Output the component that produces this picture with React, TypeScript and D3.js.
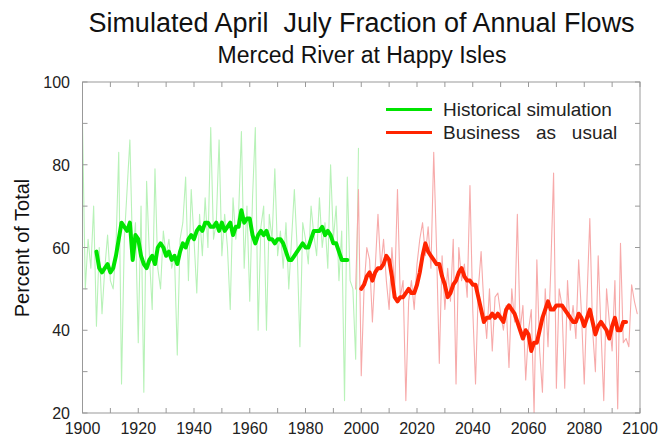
import React from "react";
import * as d3 from "d3";

const histStart = 1900;
const histAnnual = [
  90, 50, 62, 55, 70, 41, 60, 44, 55, 63,
  52, 50, 60, 83, 27, 62, 74, 86, 58, 66,
  37, 70, 25, 76, 58, 45, 79, 55, 50, 64,
  58, 62, 55, 58, 34, 62, 66, 77, 52, 74,
  62, 49, 68, 58, 72, 60, 89, 62, 66, 86,
  58, 68, 60, 45, 72, 62, 68, 88, 55, 70,
  47, 72, 89, 40, 65, 70, 40, 68, 62, 79,
  58, 64, 55, 66, 50, 62, 74, 60, 36, 66,
  62, 56, 70, 63, 58, 72, 60, 66, 55, 80,
  62, 70, 52, 64, 23, 77, 52, 50, 33, 84,
];

const histSmoothStart = 1905;
const histSmooth = [
  59, 55, 54, 55, 56, 54, 55, 58, 62, 66,
  65, 64, 66, 57, 63, 62, 58, 56, 55, 57,
  58, 56, 60, 61, 60, 58, 59, 57, 58, 56,
  59, 61, 60, 62, 63, 62, 64, 65, 64, 66,
  66, 65, 65, 66, 64, 66, 64, 65, 66, 63,
  65, 65, 69, 66, 67, 67, 63, 61, 63, 64,
  63, 64, 62, 62, 61, 62, 62, 61, 59, 57,
  57, 58, 59, 60, 61, 60, 60, 62, 64, 64,
  64, 65, 63, 64, 63, 61, 61, 59, 57, 57,
  57,
];

const bauStart = 1998;
const bauAnnual = [
  50, 74,
  29, 50, 60, 57, 42, 55, 68, 55, 62, 52,
  45, 60, 50, 74, 48, 52, 23, 47, 52, 45,
  56, 62, 66, 58, 65, 55, 83, 60, 32, 58,
  45, 55, 47, 62, 27, 60, 52, 56, 48, 75,
  45, 27, 50, 59, 46, 38, 50, 35, 48, 49,
  44, 40, 46, 31, 50, 42, 68, 40, 46, 28,
  40, 45, 20, 57, 35, 25, 50, 36, 55, 78,
  26, 50, 46, 26, 52, 40, 46, 38, 57, 44,
  27, 48, 67, 40, 30, 58, 40, 23, 50, 42,
  35, 52, 21, 61, 37, 38, 36, 51, 47, 44,
];

const bauSmoothStart = 2000;
const bauSmooth = [
  50, 51, 53, 54, 52, 54, 55, 55, 56, 58,
  57, 53, 48, 47, 48, 48, 49, 50, 49, 49,
  51, 54, 58, 61, 59, 58, 57, 56, 56, 53,
  51, 48, 49, 51, 52, 54, 55, 53, 52, 52,
  51, 51, 48, 45, 42, 43, 43, 44, 43, 44,
  43, 42, 45, 46, 45, 44, 42, 40, 38, 40,
  39, 35, 37, 37, 40, 43, 45, 47, 45, 45,
  46, 46, 46, 45, 44, 43, 42, 42, 44, 43,
  41, 43, 45, 42, 39, 41, 42, 41, 40, 38,
  41, 43, 40, 40, 42, 42,
];

const xTickLabels = [1900, 1920, 1940, 1960, 1980, 2000, 2020, 2040, 2060, 2080, 2100];
const yTickLabels = [20, 40, 60, 80, 100];
const legendLabels = ["Historical simulation", "Business   as   usual"];

const W = 661;
const H = 438;
const M = { left: 82.5, right: 640, top: 82, bottom: 413 };

export default function App() {
  const x = d3.scaleLinear().domain([1900, 2100]).range([M.left, M.right]);
  const y = d3.scaleLinear().domain([20, 100]).range([M.bottom, M.top]);

  const toPts = (start: number, arr: number[]) => arr.map((v, i) => [start + i, v] as [number, number]);
  const line = d3
    .line<[number, number]>()
    .x((d) => x(d[0]))
    .y((d) => y(d[1]));

  const minorX = d3.range(1900, 2101, 10);
  const minorY = d3.range(20, 101, 10);
  const tickLen = 5;
  const axisColor = "#999";
  const font = "'Liberation Sans', Arial, Helvetica, sans-serif";

  return (
    <svg
      width={W}
      height={H}
      style={{ position: "absolute", left: 0, top: 0, background: "#fff" }}
      fontFamily={font}
    >
      <defs>
        <clipPath id="plotClip">
          <rect x={M.left} y={M.top} width={M.right - M.left} height={M.bottom - M.top} />
        </clipPath>
      </defs>
      <rect x={0} y={0} width={W} height={H} fill="#fff" />

      {/* Titles */}
      <text x={361.5} y={31.5} textAnchor="middle" fontSize={27} fill="#111" style={{ whiteSpace: "pre" }}>
        {"Simulated April  July Fraction of Annual Flows"}
      </text>
      <text x={362} y={62.5} textAnchor="middle" fontSize={23} fill="#111">
        Merced River at Happy Isles
      </text>

      {/* Data lines */}
      <g clipPath="url(#plotClip)" fill="none" strokeLinejoin="round" strokeLinecap="round">
        <path d={line(toPts(histStart, histAnnual)) || ""} stroke="#b8f2b8" strokeWidth={1.1} />
        <path d={line(toPts(bauStart, bauAnnual)) || ""} stroke="#f7aaaa" strokeWidth={1.1} />
        <path d={line(toPts(histSmoothStart, histSmooth)) || ""} stroke="#00e400" strokeWidth={4} />
        <path d={line(toPts(bauSmoothStart, bauSmooth)) || ""} stroke="#ff2400" strokeWidth={4} />
      </g>

      {/* Frame */}
      <rect
        x={M.left}
        y={M.top}
        width={M.right - M.left}
        height={M.bottom - M.top}
        fill="none"
        stroke={axisColor}
        strokeWidth={1}
      />
      {minorX.map((t) => (
        <g key={"xt" + t} stroke={axisColor}>
          <line x1={x(t)} x2={x(t)} y1={M.bottom} y2={M.bottom - tickLen} />
          <line x1={x(t)} x2={x(t)} y1={M.top} y2={M.top + tickLen} />
        </g>
      ))}
      {minorY.map((t) => (
        <g key={"yt" + t} stroke={axisColor}>
          <line x1={M.left} x2={M.left + tickLen} y1={y(t)} y2={y(t)} />
          <line x1={M.right} x2={M.right - tickLen} y1={y(t)} y2={y(t)} />
        </g>
      ))}

      {/* Tick labels */}
      {xTickLabels.map((t) => (
        <text key={"xl" + t} x={x(t)} y={434} textAnchor="middle" fontSize={16} fill="#222">
          {t}
        </text>
      ))}
      {yTickLabels.map((t) => (
        <text key={"yl" + t} x={70} y={y(t) + 6} textAnchor="end" fontSize={16} fill="#222">
          {t}
        </text>
      ))}

      {/* Y label */}
      <text
        transform={`translate(29, ${248}) rotate(-90)`}
        textAnchor="middle"
        fontSize={20}
        fill="#111"
      >
        Percent of Total
      </text>

      {/* Legend */}
      <line x1={386} x2={432} y1={109.5} y2={109.5} stroke="#00e400" strokeWidth={3} />
      <line x1={386} x2={432} y1={132.5} y2={132.5} stroke="#ff2400" strokeWidth={3} />
      <text x={443} y={115.5} fontSize={19} fill="#222" style={{ whiteSpace: "pre" }}>
        {legendLabels[0]}
      </text>
      <text x={443} y={138.5} fontSize={19} fill="#222" style={{ whiteSpace: "pre" }}>
        {legendLabels[1]}
      </text>
    </svg>
  );
}
